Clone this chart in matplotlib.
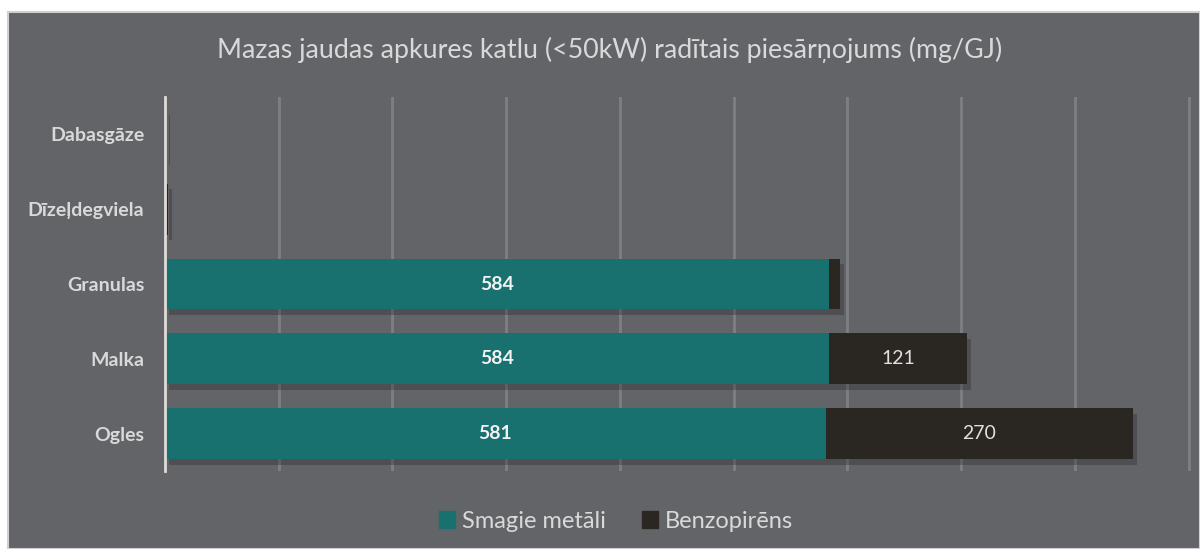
import matplotlib.pyplot as plt
import matplotlib.patheffects as pe
from matplotlib.patches import Rectangle, Patch
import numpy as np

plt.rcParams['font.family'] = ['Lato', 'DejaVu Sans']

# data
categories = ["Dabasgāze", "Dīzeļdegviela", "Granulas", "Malka", "Ogles"]
smagie_metali = [0.3, 0.5, 584, 584, 581]
benzopirens = [0.1, 2, 9, 121, 270]
show_labels = [False, False, True, True, True]
show_benzo_label = [False, False, False, True, True]

bg = "#636468"
teal = "#18716F"
dark = "#2A2722"
txt = "#D9D9D9"

fig = plt.figure(figsize=(12, 5.49), dpi=100)
fig.patch.set_facecolor("white")
# chart area with light border
fig.patches.append(Rectangle((8 / 1200, 0), 1 - 8 / 1200, 1 - 12 / 549,
                             transform=fig.transFigure, facecolor=bg,
                             edgecolor="#D0D0D0", linewidth=1.5, zorder=-10))

ax = fig.add_axes([165 / 1200, 78 / 549, 1026 / 1200, 374 / 549])
ax.set_facecolor("none")
ax.set_zorder(1)

y = np.arange(len(categories))[::-1]
shadow = [pe.SimplePatchShadow(offset=(3, -4), shadow_rgbFace="#2a2a2e", alpha=0.35), pe.Normal()]
b1 = ax.barh(y, smagie_metali, height=0.68, color=teal, zorder=3)
b2 = ax.barh(y, benzopirens, left=smagie_metali, height=0.68, color=dark, zorder=3)
for b in list(b1) + list(b2):
    b.set_path_effects(shadow)

for i in range(len(categories)):
    if show_labels[i]:
        ax.text(smagie_metali[i] / 2, y[i], f"{smagie_metali[i]}", ha="center", va="center",
                color="#F2F2F2", fontsize=14, fontweight="bold", zorder=5)
    if show_benzo_label[i]:
        ax.text(smagie_metali[i] + benzopirens[i] / 2, y[i], f"{benzopirens[i]}",
                ha="center", va="center", color="#E0E0E0", fontsize=14, zorder=5)

ax.set_xlim(0, 902)
ax.set_ylim(-0.5, 4.5)
ax.set_xticks(np.arange(100, 901, 100))
ax.xaxis.grid(True, color="#7E7F82", linewidth=2, zorder=0)
ax.set_axisbelow(True)
ax.tick_params(axis="x", length=0, labelbottom=False)
ax.tick_params(axis="y", length=0, pad=15)
ax.set_yticks(y)
ax.set_yticklabels(categories, fontsize=14, fontweight="bold", color=txt)
for s in ["top", "right", "bottom"]:
    ax.spines[s].set_visible(False)
ax.spines["left"].set_color("#E0DCD8")
ax.spines["left"].set_linewidth(2)
ax.spines["left"].set_zorder(4)

fig.text(610 / 1200, 1 - 50 / 549, "Mazas jaudas apkures katlu (<50kW) radītais piesārņojums (mg/GJ)",
         ha="center", va="center", color=txt, fontsize=19.3)

handles = [Patch(color=teal, label="Smagie metāli"), Patch(color=dark, label="Benzopirēns")]
fig.legend(handles=handles, loc="center", bbox_to_anchor=(616 / 1200, 1 - 521 / 549),
           ncol=2, frameon=False, fontsize=17, labelcolor=txt, handlelength=0.7,
           handleheight=0.7, handletextpad=0.3, columnspacing=1.5)

fig.savefig("out.png", dpi=100, facecolor=fig.get_facecolor())
